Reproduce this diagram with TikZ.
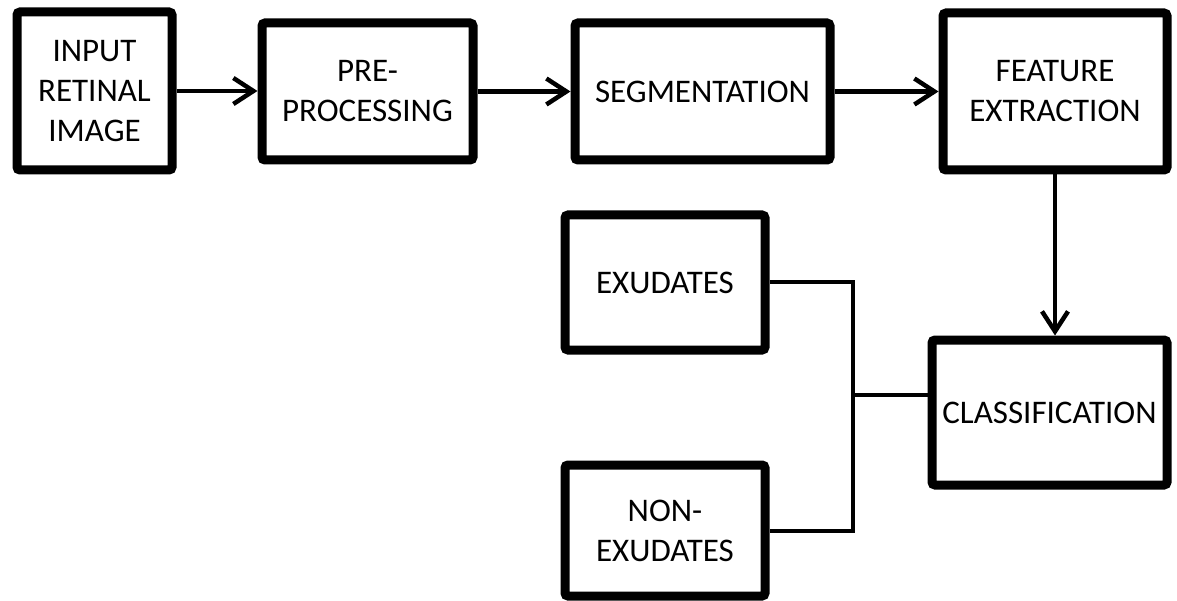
\documentclass[tikz,border=0pt]{standalone}
\usepackage{fontspec}
\setmainfont{Carlito}
\usetikzlibrary{arrows.meta}
\begin{document}
\begin{tikzpicture}[x=1pt,y=-1pt,
  block/.style={draw=black, line width=9pt, rounded corners=3pt, fill=white,
    align=center, inner sep=0pt,
    font=\fontsize{33}{40}\selectfont},
  flow/.style={line width=4.5pt, -{Straight Barb[length=20pt,width=26pt,line width=4.5pt]}},
  conn/.style={line width=4pt}]
  \useasboundingbox (0,0) rectangle (1177,601);

  % processing chain
  \node[block, minimum width=155pt, minimum height=158pt] (inp) at (94.5,91) {INPUT\\RETINAL\\IMAGE};
  \node[block, minimum width=211pt, minimum height=137pt] (pre) at (367.5,91.5) {PRE-\\PROCESSING};
  \node[block, minimum width=255pt, minimum height=137pt] (seg) at (702.5,91.5) {SEGMENTATION};
  \node[block, minimum width=224pt, minimum height=157pt] (fea) at (1055,91.5) {FEATURE\\EXTRACTION};
  % classifier and its two outcomes
  \node[block, minimum width=200pt, minimum height=135pt] (exu) at (665,282.5) {EXUDATES};
  \node[block, minimum width=235pt, minimum height=145pt] (cls) at (1049.5,412.5) {CLASSIFICATION};
  \node[block, minimum width=200pt, minimum height=131pt] (non) at (665,530.5) {NON-\\EXUDATES};

  \coordinate (join) at (853,395);

  \draw[flow] (inp.east) -- (inp.east -| pre.west);
  \draw[flow] (pre.east) -- (pre.east -| seg.west);
  \draw[flow] (seg.east) -- (seg.east -| fea.west);
  \draw[flow] (fea.south) -- (fea.south |- cls.north);

  \draw[conn] (exu.east) -| (join) |- (non.east);
  \draw[conn] (join) -- (join -| cls.west);
\end{tikzpicture}
\end{document}
